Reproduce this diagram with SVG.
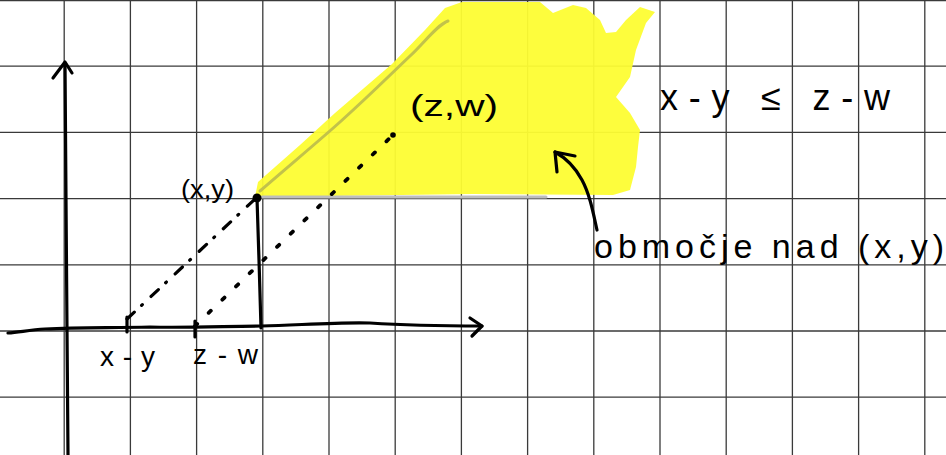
<svg xmlns="http://www.w3.org/2000/svg" width="946" height="455" viewBox="0 0 946 455">
<style>
.grid line{stroke:#3a3a3a;stroke-width:1.3}
.ink{fill:none;stroke:#000;stroke-width:3.2;stroke-linecap:round;stroke-linejoin:round}
.hand{font-family:"Liberation Sans","DejaVu Sans",sans-serif;fill:#000}
</style>
<rect width="946" height="455" fill="#fff"/>
<g id="grid" class="grid">
<line x1="0" y1="0.7" x2="946" y2="0.7"/>
<line x1="0" y1="66.2" x2="946" y2="66.2"/>
<line x1="0" y1="132.4" x2="946" y2="132.4"/>
<line x1="0" y1="198.6" x2="946" y2="198.6"/>
<line x1="0" y1="264.8" x2="946" y2="264.8"/>
<line x1="0" y1="331" x2="946" y2="331"/>
<line x1="0" y1="397.2" x2="946" y2="397.2"/>
<line x1="64.2" y1="0" x2="64.2" y2="455"/>
<line x1="130.4" y1="0" x2="130.4" y2="455"/>
<line x1="196.6" y1="0" x2="196.6" y2="455"/>
<line x1="262.8" y1="0" x2="262.8" y2="455"/>
<line x1="329" y1="0" x2="329" y2="455"/>
<line x1="395.2" y1="0" x2="395.2" y2="455"/>
<line x1="461.4" y1="0" x2="461.4" y2="455"/>
<line x1="527.6" y1="0" x2="527.6" y2="455"/>
<line x1="593.8" y1="0" x2="593.8" y2="455"/>
<line x1="660" y1="0" x2="660" y2="455"/>
<line x1="726.2" y1="0" x2="726.2" y2="455"/>
<line x1="792.4" y1="0" x2="792.4" y2="455"/>
<line x1="858.6" y1="0" x2="858.6" y2="455"/>
<line x1="924.8" y1="0" x2="924.8" y2="455"/>
</g>
<g id="region">
<path d="M255,197 L258,182 L300,145 L335,113 L392,64 L425,30 L445,8 L462,2 L507,2 L540,2 L553,13 L573,5 L586,8 L600,20 L606,33 L616,32 L626,20 L640,7 L655,12 L646,23 L636,50 L630,77 L616,97 L630,113 L640,130 L638,147 L636,167 L630,190 L613,195 L473,194 L330,196 Z" fill="#fdfd33" opacity="0.95"/>
<path d="M260,191 C290,165 320,140 340,122 C370,95 390,75 410,56 C425,42 437,25 448,21" fill="none" stroke="#c2c24a" stroke-width="3" stroke-linecap="round"/>
<path d="M262,197 L546,197" fill="none" stroke="#bdbdbd" stroke-width="3" stroke-linecap="round"/>
</g>
<g id="axes">
<path class="ink" d="M65,63 L66,200 L67,330 L68,455"/>
<path class="ink" d="M53,78 L65,62 L72,73"/>
<path class="ink" d="M8,333 C20,332 30,330 45,329 C80,327 110,328 150,327 C190,328 230,326 262,326 C300,325 340,322 370,323 C400,325 440,326 482,326"/>
<path class="ink" d="M470,318 L482,326 L472,336"/>
<path class="ink" d="M127,317 L127,332"/>
<path class="ink" d="M195,321 L195,337" stroke-width="4"/>
</g>
<g id="connectors">
<path class="ink" d="M257,198 L259,260 L261,328"/>
<circle cx="257" cy="198" r="4.5" fill="#000"/>
<path d="M127,319 L255,199" fill="none" stroke="#000" stroke-width="3.2" stroke-linecap="round" stroke-dasharray="10 10 1 12"/>
<path d="M195,326 L394,134" fill="none" stroke="#000" stroke-width="3.8" stroke-linecap="round" stroke-dasharray="3 16"/>
<circle cx="393" cy="135" r="2.8" fill="#000"/>
<path class="ink" d="M597,230 C593,212 590,195 582,180 C575,167 566,158 555,152"/>
<path class="ink" d="M557,172 L555,152 L575,156"/>
</g>
<g id="labels">
<text class="hand" x="181" y="198" font-size="25" textLength="53" lengthAdjust="spacingAndGlyphs">(x,y)</text>
<text class="hand" x="410" y="116" font-size="30" textLength="88" lengthAdjust="spacingAndGlyphs">(z,w)</text>
<text class="hand" x="660" y="110" font-size="36" textLength="230" lengthAdjust="spacing">x-y ≤ z-w</text>
<text class="hand" x="594" y="258" font-size="34" textLength="350" lengthAdjust="spacing">območje nad (x,y)</text>
<text class="hand" x="100" y="366" font-size="28" textLength="55" lengthAdjust="spacing">x-y</text>
<text class="hand" x="193" y="364" font-size="28" textLength="65" lengthAdjust="spacing">z-w</text>
</g>
</svg>
